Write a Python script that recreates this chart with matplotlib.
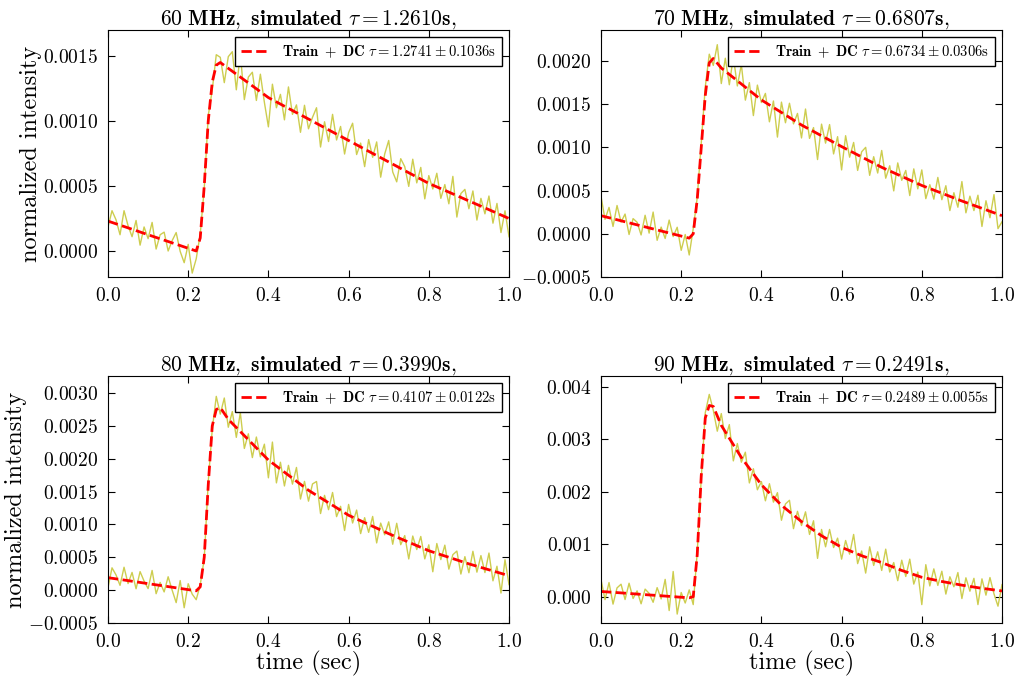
import numpy as np
import matplotlib
matplotlib.use('Agg')
import matplotlib.pyplot as plt

plt.rcParams['font.family'] = 'serif'
plt.rcParams['font.serif'] = ['cmr10']
plt.rcParams['mathtext.fontset'] = 'cm'
plt.rcParams['axes.formatter.use_mathtext'] = True

# values in units of 1e-6 (normalized intensity)
freqs = ['60', '70', '80', '90']
sim_tau = ['1.2610', '0.6807', '0.3990', '0.2491']
fit_tau = ['1.2741', '0.6734', '0.4107', '0.2489']
fit_err = ['0.1036', '0.0306', '0.0122', '0.0055']

# measured trace, sampled every 0.01 s from 0 to 1
noise60 = [185, 310, 240, 125, 310, 195, 110, 235, 45, 185,
           95, 220, 15, 125, 145, 0, 80, 142, -3, -90,
           51, -170, -60, 130, 480, 1040, 1240, 1510, 1490, 1295,
           1495, 1533, 1240, 1518, 1165, 1338, 1375, 1158, 1360, 1143,
           955, 1283, 1102, 1205, 1009, 1262, 1051, 1124, 913, 1121,
           940, 1028, 1102, 800, 994, 842, 1051, 854, 958, 746,
           910, 983, 742, 830, 649, 857, 721, 839, 568, 746,
           850, 608, 532, 710, 649, 497, 706, 524, 643, 401,
           580, 477, 598, 405, 511, 363, 574, 261, 442, 474,
           325, 462, 238, 405, 286, 423, 214, 366, 142, 309,
           110]
noise70 = [435, 168, 306, 85, 328, 136, 229, -8, 176, 134,
           -13, 215, 8, 252, -75, 78, -54, 159, -32, 76,
           -191, -8, -245, 60, 420, 1050, 1700, 2080, 1950, 2190,
           1740, 2033, 1726, 2049, 1712, 1960, 1548, 1751, 1369, 1722,
           1520, 1626, 1297, 1538, 1120, 1525, 1286, 1512, 1273, 1394,
           1110, 1445, 1105, 1230, 860, 1270, 1050, 1265, 925, 1125,
           740, 1136, 887, 1058, 734, 950, 1001, 677, 893, 704,
           965, 644, 788, 497, 821, 620, 734, 443, 752, 521,
           740, 407, 569, 401, 653, 395, 557, 269, 476, 308,
           605, 243, 436, 269, 447, 85, 383, 186, 454, 60,
           140]
noise80 = [40, 340, 232, 73, 349, 100, 270, 21, 282, 138,
           24, 300, -54, 117, -27, 204, -1, -190, 146, -268,
           98, -61, -145, 80, 480, 1650, 2450, 2950, 2680, 2925,
           2480, 2718, 2326, 2700, 2157, 2380, 2018, 2331, 2029, 2222,
           1710, 2254, 1633, 1947, 1586, 1900, 1614, 1868, 1387, 1656,
           1355, 1617, 1654, 1166, 1443, 1225, 1487, 1119, 1276, 908,
           1305, 1022, 1219, 861, 1103, 880, 1122, 719, 1021, 843,
           1040, 699, 1018, 692, 831, 475, 824, 618, 817, 476,
           690, 280, 710, 465, 685, 320, 540, 595, 245, 510,
           265, 592, 274, 526, 268, 565, 142, 364, -44, 463,
           85]
noise90 = [325, -55, 269, -141, 168, 238, -53, 257, -34, 111,
           -135, 145, 64, -106, 173, -42, 330, -263, 480, -330,
           80, -120, 130, -150, 850, 2250, 3500, 3850, 3550, 3150,
           3485, 3010, 3275, 2585, 2915, 2560, 2750, 2165, 2435, 2035,
           2190, 1825, 2150, 1800, 1980, 1455, 1765, 1835, 1295, 1625,
           1355, 1615, 1185, 1445, 730, 1280, 950, 1280, 935, 1115,
           715, 1070, 810, 1185, 630, 870, 450, 950, 595, 855,
           500, 905, 470, 650, 305, 695, 385, 715, 240, 470,
           -150, 610, 205, 530, 215, 485, 50, 380, 190, 460,
           -35, 360, 105, 350, -150, 340, 30, 365, 55, -180,
           230]

# fitted model (Train + DC)
fit_t = [0.0, 0.05, 0.10, 0.15, 0.20, 0.22, 0.23, 0.24, 0.25, 0.26, 0.27, 0.28,
         0.30, 0.35, 0.40, 0.45, 0.50, 0.55, 0.60, 0.65, 0.70, 0.75, 0.80,
         0.85, 0.90, 0.95, 1.00]
fit60 = [230, 178, 125, 73, 21, 0, 100, 500, 1000, 1300, 1430, 1450,
         1405, 1293, 1180, 1097, 1015, 932, 850, 767, 685, 602, 520,
         453, 385, 318, 250]
fit70 = [210, 151, 92, 33, -26, -50, 0, 400, 1000, 1600, 1980, 2030,
         1920, 1735, 1550, 1405, 1260, 1135, 1010, 890, 770, 665, 560,
         470, 380, 295, 210]
fit80 = [190, 145, 99, 54, 8, -10, 50, 500, 1600, 2500, 2750, 2780,
         2600, 2290, 1980, 1750, 1520, 1330, 1140, 1000, 860, 730, 600,
         500, 400, 310, 220]
fit90 = [100, 73, 45, 18, -10, -20, 0, 800, 2300, 3400, 3640, 3620,
         3260, 2650, 2130, 1740, 1430, 1160, 940, 780, 650, 500, 370,
         290, 220, 160, 110]

ylims = [(-0.0002, 0.0017), (-0.0005, 0.00236), (-0.0005, 0.00326), (-0.0005, 0.0042)]
yticks = [np.arange(0, 0.0016, 0.0005), np.arange(-0.0005, 0.0021, 0.0005),
          np.arange(-0.0005, 0.0031, 0.0005), np.arange(0, 0.0041, 0.001)]

t = np.arange(101) / 100.0
noises = [noise60, noise70, noise80, noise90]
fits = [fit60, fit70, fit80, fit90]

fig = plt.figure(figsize=(10.19, 6.78), dpi=100, facecolor='white')
W, H = 1019.0, 678.0
boxes = [(108, 30), (601, 30), (108, 376), (601, 376)]

for i in range(4):
    x0, y0 = boxes[i]
    ax = fig.add_axes([x0 / W, 1 - (y0 + 247) / H, 401 / W, 247 / H])
    ax.plot(t, np.array(noises[i]) * 1e-6, color='#c8c83c', alpha=0.9, lw=1)
    ax.plot(fit_t, np.array(fits[i]) * 1e-6, 'r--', lw=2,
            label=r'$\mathbf{Train\ +\ DC}\ \tau = %s \pm %s$s' % (fit_tau[i], fit_err[i]))
    ax.set_xlim(0, 1)
    ax.set_ylim(*ylims[i])
    ax.set_yticks(yticks[i])
    ax.set_xticks([0, 0.2, 0.4, 0.6, 0.8, 1.0])
    ax.tick_params(direction='in', top=True, right=True, length=5, labelsize=14, pad=7)
    ax.set_title(r'$\mathbf{%s\ MHz,\ simulated}\ \tau = %s\mathbf{s,}$' % (freqs[i], sim_tau[i]),
                 fontsize=15.5, pad=4)
    leg = ax.legend(loc='upper right', fontsize=10.5, fancybox=False, framealpha=1,
                    handlelength=2.0, borderaxespad=0.5)
    leg.get_frame().set_edgecolor('black')
    if i % 2 == 0:
        ax.set_ylabel('normalized intensity', fontsize=17.5, labelpad=1)
    if i >= 2:
        ax.set_xlabel('time (sec)', fontsize=17.5, labelpad=0)

fig.savefig('out.png', dpi=100, facecolor='white')
